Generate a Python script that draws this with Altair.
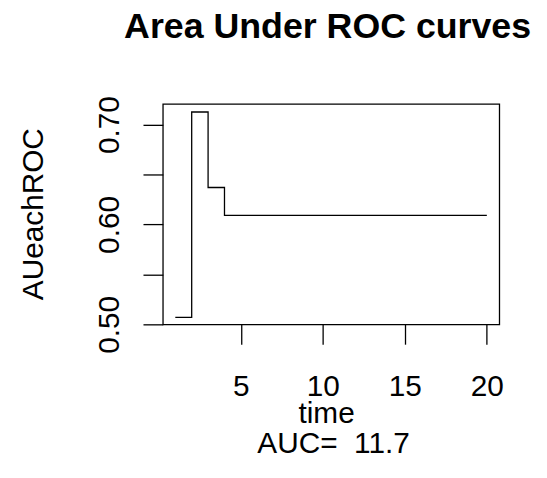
import altair as alt
import pandas as pd

time = list(range(1, 21))
auc_each = [0.507, 0.7126, 0.637] + [0.609] * 17
x_ticks = [5, 10, 15, 20]
y_ticks = [0.50, 0.55, 0.60, 0.65, 0.70]
title_text = "Area Under ROC curves"
x_title = "time"
y_title = "AUeachROC"
sub_text = "AUC= \u00a011.7"

df = pd.DataFrame({"time": time, "AUeachROC": auc_each})

FONT = "Liberation Sans"
W, H = 339, 222

xscale = alt.Scale(domain=[0.24, 20.76], nice=False, zero=False)
yscale = alt.Scale(domain=[0.5, 0.7206], nice=False, zero=False)

line = alt.Chart(df).mark_line(
    interpolate="step-after", color="black", strokeWidth=1.3
).encode(
    x=alt.X("time:Q", scale=xscale, axis=alt.Axis(
        values=x_ticks, title=None, domain=False, tickSize=20, tickWidth=1.3,
        tickColor="black", labelFontSize=30, labelFont=FONT, labelColor="black",
        labelBaseline="alphabetic", labelPadding=52, labelAlign="center",
        grid=False, labelFlush=False, labelOverlap=False)),
    y=alt.Y("AUeachROC:Q", scale=yscale, axis=alt.Axis(
        values=y_ticks, title=None, domain=False, tickSize=20, tickWidth=1.3,
        tickColor="black", labelFontSize=30, labelFont=FONT, labelColor="black",
        labelAngle=270, labelAlign="center", labelBaseline="alphabetic",
        labelPadding=25, grid=False, labelFlush=False, labelOverlap=False,
        labelExpr="round(datum.value*100) % 10 == 0 ? format(datum.value, '.2f') : ''")),
)

def txt(s, x, y, size=30, weight="normal", angle=0):
    return alt.Chart(pd.DataFrame({"t": [s]})).mark_text(
        font=FONT, fontSize=size, fontWeight=weight, angle=angle,
        align="center", baseline="alphabetic", color="black"
    ).encode(text="t:N", x=alt.value(x), y=alt.value(y))

title = txt(title_text, 166, -66, size=36, weight="bold")
xt = txt(x_title, 165, 321)
sub = txt(sub_text, 172, 352)
yt = txt(y_title, -121, 111, angle=270)

chart = alt.layer(line, title, xt, sub, yt).properties(
    width=W, height=H,
    autosize=alt.AutoSizeParams(type="none"),
    padding={"left": 156, "top": 95, "right": 40, "bottom": 140},
).configure(background="white").configure_view(stroke="black", strokeWidth=1.3)

chart.save("out.html", embed_options={"renderer": "svg", "actions": False})
